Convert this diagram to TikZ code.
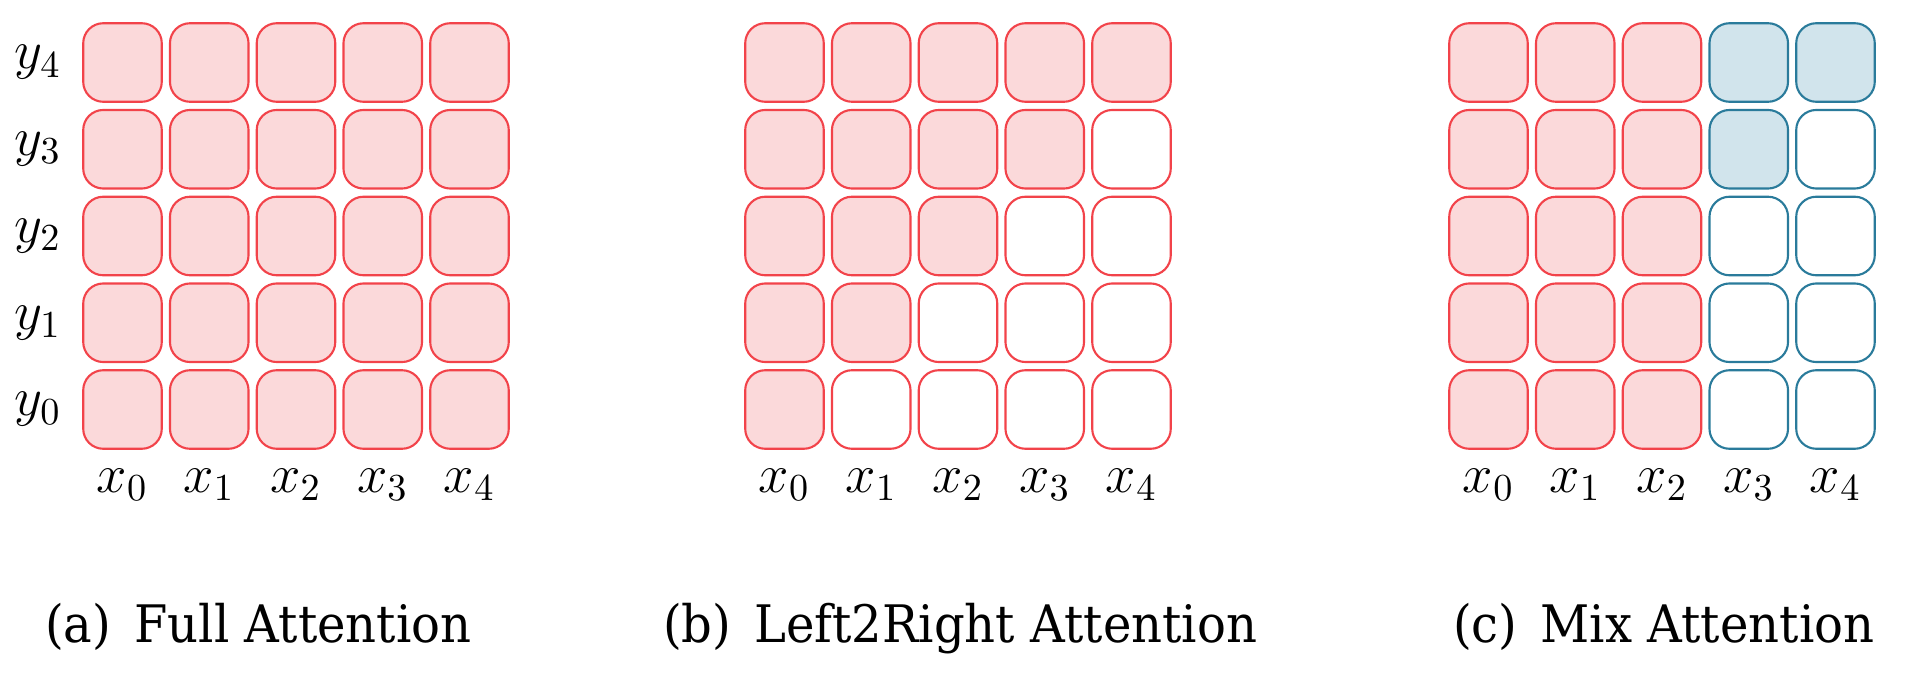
\RequirePackage{fix-cm}
\documentclass[tikz,border=0pt]{standalone}
\usepackage{fontspec}
\newfontfamily\capfont[FakeStretch=0.93]{DejaVu Serif}
\usetikzlibrary{positioning}
\definecolor{attred}{HTML}{F2434A}
\definecolor{attpink}{HTML}{FBD9DA}
\definecolor{attblue}{HTML}{2A7B9B}
\definecolor{attsky}{HTML}{D1E4EC}
\tikzset{
  base/.style={font=\fontsize{15.5}{18}\selectfont, inner sep=0pt, outer sep=0mm},
  cell/.style={rectangle, rounded corners=2mm, minimum size=7.85mm, line width=0.6pt, base},
  redfull/.style={cell, draw=attred, fill=attpink},
  redopen/.style={cell, draw=attred, fill=white},
  bluefull/.style={cell, draw=attblue, fill=attsky},
  blueopen/.style={cell, draw=attblue, fill=white},
  captext/.style={font=\capfont\fontsize{14.7}{17}\selectfont, inner sep=0pt, outer sep=0mm, anchor=base west}
}

\begin{document}
\begin{tikzpicture}[x=0.01cm, y=-0.01cm]
    \useasboundingbox (0,0) rectangle (1911,673);

    % (a) full attention
    \foreach \i in {0,...,4}
      \foreach \j in {0,...,4}
        \node[redfull] (a-\i-\j) at ({122.5+86.75*\i},{62.5+86.75*(4-\j)}) {};
    \foreach \j in {0,...,4}
      \node[base, left=2.2mm of a-0-\j] (ay\j) {$y_\j$};

    % (b) left to right
    \foreach \i in {0,...,4}
      \foreach \j in {0,...,4} {
        \ifnum\i>\j \def\kind{redopen}\else \def\kind{redfull}\fi
        \node[style=\kind] (b-\i-\j) at ({784.5+86.75*\i},{62.5+86.75*(4-\j)}) {};
      }

    % (c) mix
    \foreach \i in {0,...,4}
      \foreach \j in {0,...,4} {
        \ifnum\i<3 \def\kind{redfull}\else
          \ifnum\i>\j \def\kind{blueopen}\else \def\kind{bluefull}\fi
        \fi
        \node[style=\kind] (c-\i-\j) at ({1488.5+86.75*\i},{62.5+86.75*(4-\j)}) {};
      }

    \foreach \g in {a,b,c}
      \foreach \i in {0,...,4}
        \node[base, below=2mm of \g-\i-0] (\g x\i) {$x_\i$};

    \node[captext] (capa) at (45,642) {(a)\hspace{0.45em}Full Attention};
    \node[captext] (capb) at (663,642) {(b)\hspace{0.45em}Left2Right Attention};
    \node[captext] (capc) at (1453,642) {(c)\hspace{0.45em}Mix Attention};
\end{tikzpicture}
\end{document}
